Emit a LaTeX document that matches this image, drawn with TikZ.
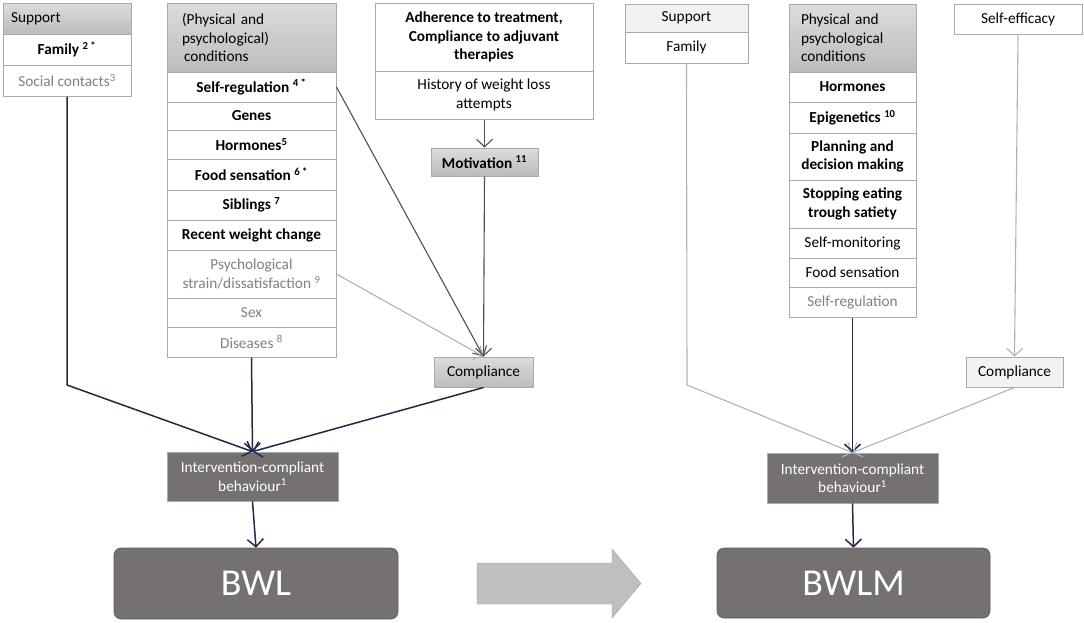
\documentclass[tikz,border=0pt]{standalone}
\usepackage{fontspec}
\setmainfont{Carlito}
\usetikzlibrary{arrows.meta}
\definecolor{navyc}{RGB}{31,42,68}
\definecolor{boxbrd}{RGB}{170,170,170}
\definecolor{txtgray}{RGB}{128,128,128}
\definecolor{dkbox}{RGB}{118,113,113}
\definecolor{ltfill}{RGB}{242,242,242}
\definecolor{lineg}{RGB}{80,80,80}
\definecolor{linelt}{RGB}{178,178,178}
\definecolor{hdtop}{RGB}{220,220,220}
\definecolor{hdbot}{RGB}{188,188,188}
\definecolor{bigarr}{RGB}{191,191,191}
\newcommand{\bx}[7]{\node[#6, minimum width={#4-#2}, minimum height={#5-#3}] (#1) at ({(#2+#4)/2},{(#3+#5)/2}) {#7};}
\tikzset{
  base/.style={draw=boxbrd, line width=1pt, inner sep=0pt, align=center,
    font=\fontsize{15.3}{18.5}\selectfont, text=black},
  row/.style={base, fill=white},
  grayrow/.style={base, fill=white, text=txtgray},
  hdr/.style={base, top color=hdtop, bottom color=hdbot},
  lthdr/.style={base, fill=ltfill},
  dark/.style={draw=boxbrd, line width=0.8pt, fill=dkbox, text=white, inner sep=0pt, align=center,
    font=\fontsize{15.3}{18.5}\selectfont},
  big/.style={draw=dkbox!80!black, line width=0.6pt, fill=dkbox, text=white, inner sep=0pt,
    rounded corners=7pt, font=\fontsize{38}{44}\selectfont},
  tip/.style={-{Straight Barb[length=7.5pt,width=16pt]}},
  navyline/.style={tip, draw=navyc, line width=1.5pt},
  grayline/.style={tip, draw=lineg, line width=1.1pt},
  ltline/.style={tip, draw=linelt, line width=1.1pt},
}
\begin{document}
\begin{tikzpicture}[x=1pt,y=-1pt]
\useasboundingbox (0,0) rectangle (1084,622);
% ---------- left part ----------
\bx{lsup}{3}{3}{131}{34}{hdr, text width=112pt, align=left}{Support}
\bx{lfam}{3}{34}{131}{65}{row}{\textbf{Family \textsuperscript{2 *}}}
\bx{lsoc}{3}{65}{131}{96}{grayrow}{Social contacts\textsuperscript{3}}

\bx{mhdr}{167}{3}{336}{72}{hdr, text width=139pt, align=left}{(Physical and\\psychological)\\\hspace*{2pt}conditions}
\bx{msr}{167}{72}{336}{102}{row}{\textbf{Self-regulation \textsuperscript{4 *}}}
\bx{mgen}{167}{102}{336}{130}{row}{\textbf{Genes}}
\bx{mhor}{167}{130}{336}{159}{row}{\textbf{Hormones\textsuperscript{5}}}
\bx{mfood}{167}{159}{336}{190}{row}{\textbf{Food sensation \textsuperscript{6 *}}}
\bx{msib}{167}{190}{336}{220}{row}{\textbf{Siblings \textsuperscript{7}}}
\bx{mrec}{167}{220}{336}{250}{row}{\textbf{Recent weight change}}
\bx{mpsy}{167}{250}{336}{298}{grayrow}{Psychological\\strain/dissatisfaction \textsuperscript{9}}
\bx{msex}{167}{298}{336}{327}{grayrow}{Sex}
\bx{mdis}{167}{327}{336}{357}{grayrow}{Diseases \textsuperscript{8}}

\bx{tadh}{375}{3}{593}{71}{row}{\textbf{Adherence to treatment,}\\\textbf{Compliance to adjuvant}\\\textbf{therapies}}
\bx{this}{375}{71}{593}{119}{row}{History of weight loss\\attempts}
\bx{mot}{431}{148}{538}{176}{hdr}{\textbf{Motivation \textsuperscript{11}}}
\bx{compL}{434}{357}{533}{387}{hdr}{Compliance}
\bx{ivL}{167}{452}{338}{501}{dark}{Intervention-compliant\\behaviour\textsuperscript{1}}
\bx{bwl}{114}{548}{398}{619}{big}{BWL}

\coordinate (bl) at (67,385);
\draw[navyline] (lsoc.south) -- (bl) -- (ivL.north);
\draw[navyline] (mdis.south) -- (ivL.north);
\draw[navyline] (compL.south) -- (ivL.north);
\draw[grayline] (msr.east) -- (compL.north);
\draw[ltline] (mpsy.east) -- (compL.north);
\draw[grayline] (mot.south) -- (compL.north);
\draw[grayline] (this.south -| mot.north) -- (mot.north);
\draw[navyline] (ivL.south) -- (bwl.north);

% ---------- big arrow ----------
\fill[bigarr, draw=bigarr!85!black, line width=0.4pt]
  (477,563) -- (612,563) -- (612,549) -- (641,583.5) -- (612,618) -- (612,604) -- (477,604) -- cycle;

% ---------- right part ----------
\bx{rsup}{625}{4}{748}{32}{lthdr}{Support}
\bx{rfam}{625}{32}{748}{63}{row}{Family}

\bx{rhdr}{789}{4}{916}{72}{hdr, text width=103pt, align=left}{Physical and\\psychological\\conditions}
\bx{rhor}{789}{72}{916}{102}{row}{\textbf{Hormones}}
\bx{repi}{789}{102}{916}{133}{row}{\textbf{Epigenetics \textsuperscript{10}}}
\bx{rplan}{789}{133}{916}{180}{row}{\textbf{Planning and}\\\textbf{decision making}}
\bx{rstop}{789}{180}{916}{228}{row}{\textbf{Stopping eating}\\\textbf{trough satiety}}
\bx{rmon}{789}{228}{916}{258}{row}{Self-monitoring}
\bx{rfood}{789}{258}{916}{287}{row}{Food sensation}
\bx{rsr}{789}{287}{916}{317}{grayrow}{Self-regulation}

\bx{reff}{954}{4}{1082}{34}{row}{Self-efficacy}
\bx{compR}{966}{357}{1063}{387}{lthdr}{Compliance}
\bx{ivR}{767}{453}{938}{503}{dark}{Intervention-compliant\\behaviour\textsuperscript{1}}
\bx{bwlm}{717}{548}{990}{618}{big}{BWLM}

\coordinate (br) at (687,385);
\draw[ltline] (rfam.south) -- (br) -- (ivR.north);
\draw[navyline] (rsr.south) -- (ivR.north);
\draw[ltline] (compR.south) -- (ivR.north);
\draw[ltline] (reff.south) -- (compR.north);
\draw[navyline] (ivR.south) -- (bwlm.north);
\end{tikzpicture}
\end{document}
